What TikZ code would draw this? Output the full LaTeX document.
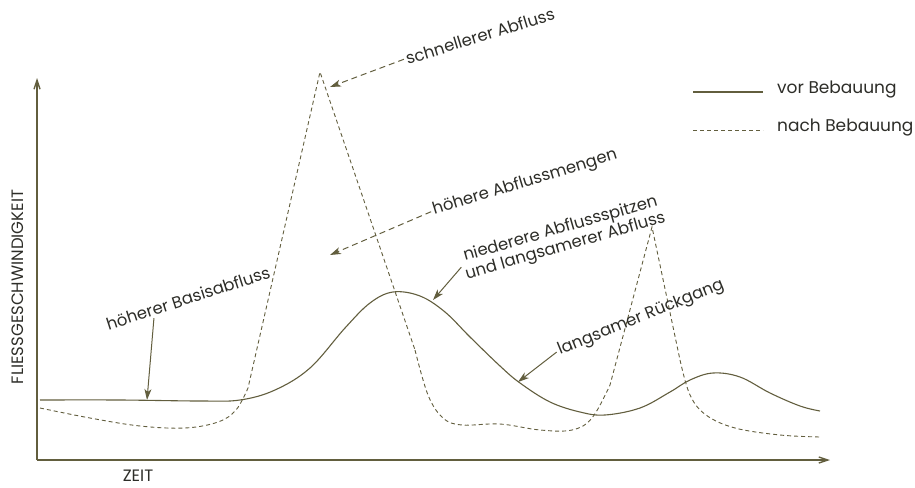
\documentclass[tikz,border=0pt]{standalone}
\usepackage{fontspec}
\setmainfont{Poppins}
\usetikzlibrary{arrows.meta, calc}

\definecolor{curvecol}{RGB}{98,94,62}
\definecolor{labelcol}{RGB}{45,45,40}

\tikzset{
  axisline/.style={draw=curvecol, line width=1.4pt, -{Straight Barb[length=9pt,width=6pt]}},
  vorline/.style={draw=curvecol, line width=1.1pt},
  nachline/.style={draw=curvecol, line width=0.9pt, dash pattern=on 4pt off 3pt},
  note/.style={text=labelcol, font=\fontsize{16.5}{18}\selectfont, inner sep=2pt},
  legnote/.style={text=labelcol, font=\fontsize{17}{19}\selectfont, inner sep=2pt},
  axisnote/.style={text=labelcol, font=\fontsize{16.5}{18}\selectfont, inner sep=0pt},
  pointer/.style={draw=curvecol, line width=1pt, -{Stealth[length=11pt,width=7pt,inset=3pt]}},
  dashpointer/.style={pointer, dash pattern=on 6pt off 4pt},
}

\begin{document}
\begin{tikzpicture}[x=1pt, y=-1pt]
\useasboundingbox (0,0) rectangle (915,487);

% axes
\coordinate (origin) at (37,460);
\coordinate (ytop) at (37,78);
\coordinate (xend) at (830,460);
\draw[axisline] (origin) -- (ytop);
\draw[axisline] (origin) -- (xend);
\node[axisnote, rotate=90] (ylabel) at (18,287) {FLIESSGESCHWINDIGKEIT};
\node[axisnote] (xlabel) at (138,476) {ZEIT};

% vor Bebauung
\draw[vorline] plot[smooth, tension=0.6] coordinates {(40,400) (120,400) (200,401) (240,400)
  (275,390) (310,368) (345,328) (370,303) (393,292) (420,296) (445,312) (470,337) (500,366)
  (520,383) (550,402) (580,412) (605,415) (640,408) (670,392) (690,380) (713,373) (740,377)
  (770,393) (800,406) (820,411)};

% nach Bebauung
\draw[nachline] plot[smooth, tension=0.6] coordinates {(40,408) (90,418) (140,426) (185,428)
  (218,422) (236,410) (248,388)} -- (320,72) -- (415,350)
  plot[smooth, tension=0.6] coordinates {(415,350) (428,395) (443,418) (462,425) (500,424)
  (540,430) (572,430) (592,418) (610,385)} -- (652,227) -- (680,360)
  plot[smooth, tension=0.6] coordinates {(680,360) (690,395) (706,415) (735,428) (780,435)
  (820,437)};

% labels
\node[note, rotate=17] (lblfast) at (480,36) {schnellerer Abfluss};
\node[note, rotate=17] (lblmore) at (525,183) {höhere Abflussmengen};
\node[note, rotate=16, align=center] (lbllow) at (563,238) {niederere Abflussspitzen\\und langsamerer Abfluss};
\node[note, rotate=22] (lblslow) at (641,318) {langsamer Rückgang};
\node[note, rotate=18] (lblbase) at (188,298) {höherer Basisabfluss};

\coordinate (fasttip) at (330,87);
\coordinate (moretip) at (330,255);
\coordinate (lowtip) at (433,300);
\coordinate (slowtip) at (518,382);
\coordinate (basetip) at (147,400);

\draw[dashpointer] (lblfast.west) -- (fasttip);
\draw[dashpointer] (lblmore.west) -- (moretip);
\draw[pointer] (lbllow.west) -- (lowtip);
\draw[pointer] (lblslow.west) -- (slowtip);
\draw[pointer] ($(lblbase.south west)!0.28!(lblbase.south east)$) -- (basetip);

% legend
\coordinate (vorA) at (693,92);
\coordinate (vorB) at (763,92);
\coordinate (nachA) at (693,130);
\coordinate (nachB) at (763,130);
\draw[vorline] (vorA) -- (vorB);
\draw[nachline] (nachA) -- (nachB);
\node[legnote, anchor=west] (legvor) at (775,90) {vor Bebauung};
\node[legnote, anchor=west] (legnach) at (775,128) {nach Bebauung};
\end{tikzpicture}
\end{document}
